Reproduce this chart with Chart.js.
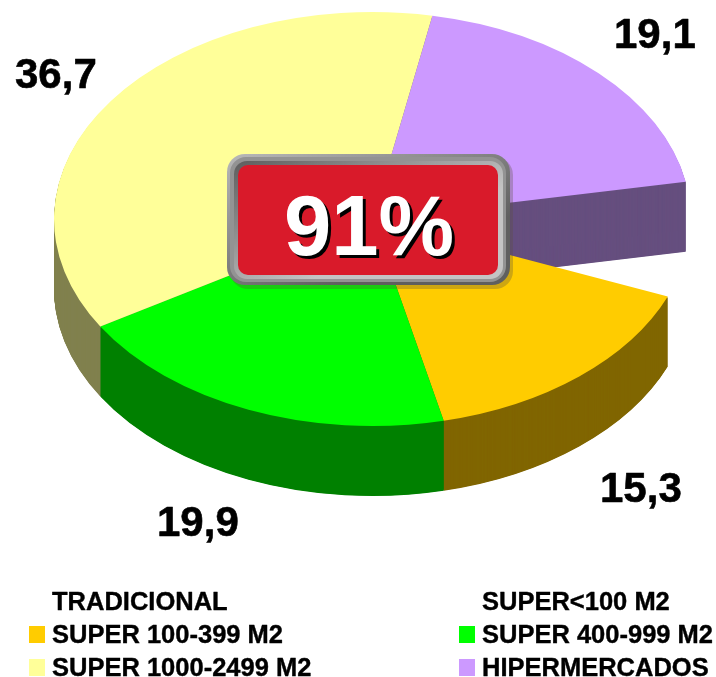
<!DOCTYPE html>
<html>
<head>
<meta charset="utf-8">
<style>html,body{margin:0;padding:0;background:#fff;overflow:hidden}canvas{display:block}</style>
<script src="https://cdn.jsdelivr.net/npm/chart.js@4/dist/chart.umd.min.js"></script>
</head>
<body>
<canvas id="c" width="716" height="677"></canvas>
<script>
// Data, clockwise from the empty gap on the right of the pie
const categories = ["TRADICIONAL", "SUPER<100 M2", "SUPER 100-399 M2", "SUPER 400-999 M2", "SUPER 1000-2499 M2", "HIPERMERCADOS"];
const values = [5.0, 4.0, 15.3, 19.9, 36.7, 19.1];
const valueLabels = [null, null, "15,3", "19,9", "36,7", "19,1"];
const topColors = ["rgba(255,255,255,0)", "rgba(255,255,255,0)", "#ffcc00", "#00ff00", "#ffff99", "#cc99ff"];
const wallColors = [null, null, "#806600", "#008000", "#80804f", "#664f7f"];
const centerText = "91%";

// Layout
const FONT = '"Liberation Sans", Arial, sans-serif';
const CY = 219, K = 0.65, DEPTH = 70, CHART_CY = 318.5;
const wallOrder = [5, 4, 2, 3];
const labelAnchors = { 2: [600, 502], 3: [157, 536], 4: [15, 88], 5: [614, 48] };
const legendAnchors = [[52, 610], [482, 610], [52, 643], [482, 643], [52, 676], [482, 676]];

function rr(ctx, x, y, w, h, r) {
  ctx.beginPath();
  ctx.roundRect(x, y, w, h, r);
}

const pie3d = {
  id: 'pie3d',
  beforeDatasetsDraw(chart) {
    const ctx = chart.ctx;
    const arcs = chart.getDatasetMeta(0).data;
    const place = (d) => {
      ctx.translate(0, CY + d);
      ctx.scale(1, K);
      ctx.translate(0, -CHART_CY);
    };
    wallOrder.forEach((i) => {
      const wall = Object.create(arcs[i]);
      wall.options = Object.assign({}, arcs[i].options, { backgroundColor: wallColors[i] });
      for (let d = DEPTH; d >= 1; d -= 0.5) {
        ctx.save();
        place(d);
        wall.draw(ctx);
        ctx.restore();
      }
    });
    arcs.forEach((arc) => {
      ctx.save();
      place(0);
      arc.draw(ctx);
      ctx.restore();
    });
    return false;
  },
  afterDraw(chart) {
    const ctx = chart.ctx;
    ctx.save();
    ctx.textAlign = 'left';
    ctx.textBaseline = 'alphabetic';
    ctx.lineJoin = 'round';
    // value labels
    ctx.fillStyle = '#000';
    ctx.strokeStyle = '#000';
    ctx.lineWidth = 0.6;
    ctx.font = 'bold 42px ' + FONT;
    valueLabels.forEach((t, i) => {
      if (t) {
        ctx.fillText(t, labelAnchors[i][0], labelAnchors[i][1]);
        ctx.strokeText(t, labelAnchors[i][0], labelAnchors[i][1]);
      }
    });
    // legend
    ctx.font = 'bold 25.5px ' + FONT;
    ctx.lineWidth = 0.4;
    categories.forEach((t, i) => {
      const [x, y] = legendAnchors[i];
      ctx.fillStyle = topColors[i];
      ctx.fillRect(x - 23, y - 17, 16, 17);
      ctx.fillStyle = '#000';
      ctx.fillText(t, x, y);
      ctx.strokeText(t, x, y);
    });
    // badge: shadow, outer bevel, flat band, inner bevel, red face
    ctx.fillStyle = 'rgba(90,80,60,0.3)';
    rr(ctx, 230, 157, 283, 132, 18); ctx.fill();
    let g = ctx.createLinearGradient(240, 150, 300, 300);
    g.addColorStop(0, '#b8b8b8'); g.addColorStop(1, '#5f5f5f');
    ctx.fillStyle = g;
    rr(ctx, 227, 154, 283, 131, 18); ctx.fill();
    ctx.fillStyle = '#939393';
    rr(ctx, 230, 157, 276, 125, 16); ctx.fill();
    g = ctx.createLinearGradient(240, 160, 300, 285);
    g.addColorStop(0, '#5f5f5f'); g.addColorStop(1, '#c4c4c4');
    ctx.fillStyle = g;
    rr(ctx, 234, 161, 269, 118, 13); ctx.fill();
    ctx.fillStyle = '#d91a2a';
    rr(ctx, 238, 165, 260, 110, 10); ctx.fill();
    ctx.font = 'bold 85px ' + FONT;
    ctx.textAlign = 'center';
    ctx.fillStyle = '#000';
    ctx.fillText(centerText, 372, 258);
    ctx.fillStyle = '#fff';
    ctx.fillText(centerText, 369, 255);
    ctx.restore();
  }
};

new Chart(document.getElementById('c'), {
  type: 'pie',
  data: {
    labels: categories,
    datasets: [{ data: values, backgroundColor: topColors, borderWidth: 0 }]
  },
  options: {
    responsive: false,
    animation: false,
    rotation: 79.6,
    layout: { padding: { left: 54, right: 25, top: 0, bottom: 40 } },
    plugins: { legend: { display: false }, tooltip: { enabled: false } }
  },
  plugins: [pie3d]
});
</script>
</body>
</html>
